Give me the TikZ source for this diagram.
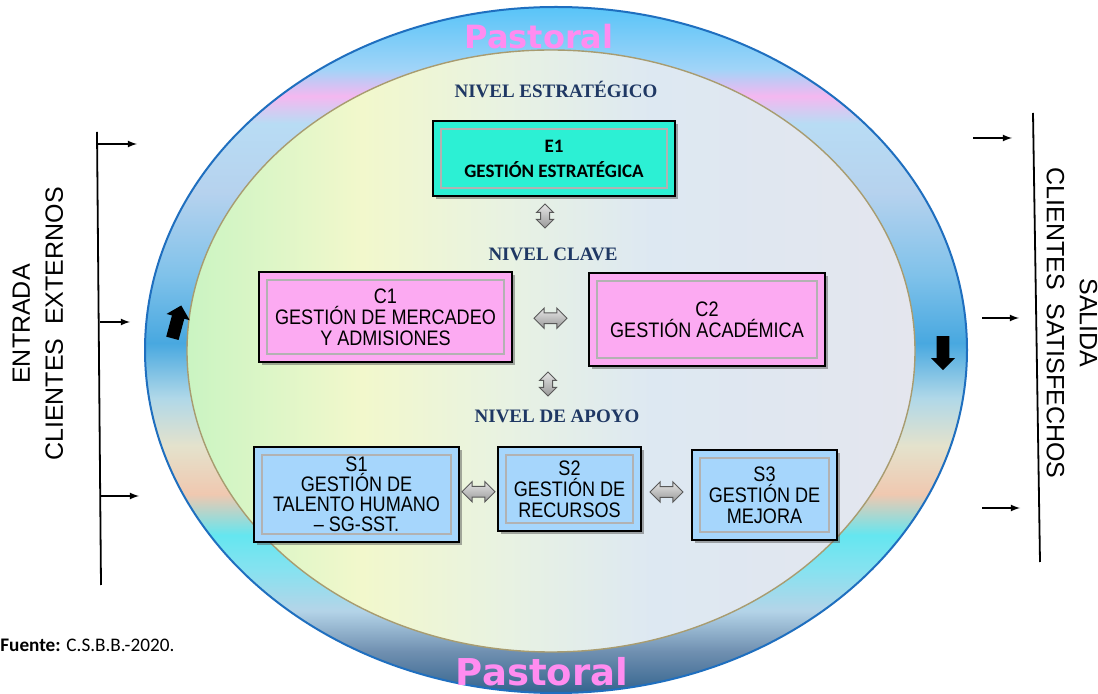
\documentclass[tikz,border=0pt]{standalone}
\usepackage{fontspec}
\setmainfont{Liberation Sans}
\newfontfamily\narrowfont[FakeStretch=0.86]{Liberation Sans}
\newfontfamily\calibfont{Carlito}
\newfontfamily\levelfont{Liberation Serif}
\newfontfamily\pastfont{DejaVu Sans}
\usepackage{tikz}
\usetikzlibrary{shapes.arrows,positioning,calc,shadows}
\usepackage{xcolor}

\definecolor{ring0}{HTML}{34648E}
\definecolor{ring1}{HTML}{6F8FB0}
\definecolor{ring2}{HTML}{B4D4E8}
\definecolor{ring3}{HTML}{86E2F0}
\definecolor{ring4}{HTML}{64E6F0}
\definecolor{ring5}{HTML}{F0C8B0}
\definecolor{ring6}{HTML}{E4E2CC}
\definecolor{ring7}{HTML}{B0D8E8}
\definecolor{ring8}{HTML}{48A8E0}
\definecolor{ring9}{HTML}{80C2EA}
\definecolor{ring10}{HTML}{B6D2EE}
\definecolor{ring11}{HTML}{B8DCF4}
\definecolor{ring12}{HTML}{F4B8F0}
\definecolor{ring13}{HTML}{A0D4F8}
\definecolor{ring14}{HTML}{58C4F8}
\definecolor{in0}{HTML}{CAF4C2}
\definecolor{in1}{HTML}{F2F8CC}
\definecolor{in2}{HTML}{E8F2E2}
\definecolor{in3}{HTML}{DDE8F2}
\definecolor{in4}{HTML}{E4E6EE}
\definecolor{ringedge}{HTML}{1F6FBF}
\definecolor{inedge}{HTML}{A89C70}
\definecolor{navy}{HTML}{1F3864}
\definecolor{eone}{HTML}{2CF0D4}
\definecolor{cpink}{HTML}{FCAAF2}
\definecolor{sblue}{HTML}{A6D6FC}
\definecolor{pastpink}{HTML}{FF8CF0}

\pgfdeclareverticalshading{ringshade}{100bp}{color(0bp)=(ring0); color(25bp)=(ring0);
  color(28bp)=(ring1); color(31bp)=(ring2); color(34bp)=(ring3); color(36.5bp)=(ring4);
  color(39.5bp)=(ring5); color(43bp)=(ring6); color(46.5bp)=(ring7); color(50.5bp)=(ring8);
  color(55.5bp)=(ring9); color(61.5bp)=(ring10); color(66.5bp)=(ring11); color(68.5bp)=(ring12);
  color(70.5bp)=(ring13); color(75bp)=(ring14); color(100bp)=(ring14)}
\pgfdeclarehorizontalshading{innershade}{100bp}{color(0bp)=(in0); color(25bp)=(in0);
  color(37bp)=(in1); color(47bp)=(in2); color(57bp)=(in3); color(75bp)=(in4); color(100bp)=(in4)}

\begin{document}
\begin{tikzpicture}[
        x=0.5pt, y=-0.5pt,
        every node/.style={inner sep=0pt},
        proc/.style={draw=black, line width=1pt, align=center,
              font=\narrowfont\fontsize{10.5}{10.5}\selectfont,
              drop shadow={shadow xshift=1.5pt, shadow yshift=-1.5pt, fill=black!65},
              path picture={\draw[black!30, line width=0.6pt]
                ([shift={(4pt,-4pt)}]path picture bounding box.north west) rectangle
                ([shift={(-4pt,4pt)}]path picture bounding box.south east);}},
        level/.style={font=\levelfont\bfseries\fontsize{9.5}{10}\selectfont, text=navy},
        harr/.style={double arrow, draw=black!65, top color=black!10, bottom color=black!40, line width=0.5pt,
              minimum height=16.5pt, inner ysep=2.4pt, inner xsep=0pt, double arrow head extend=2.4pt},
        varr/.style={harr, rotate=90, minimum height=12pt, inner ysep=2pt, double arrow head extend=2pt},
        ringarr/.style={single arrow, fill=black, minimum height=17pt, inner ysep=3pt, inner xsep=0pt,
              single arrow head extend=2.8pt},
        side/.style={font=\fontsize{12.5}{16.5}\selectfont, align=center},
        inarr/.style={-latex, line width=0.6pt},
    ]
        \fill[white, use as bounding box] (0,0) rectangle (1098,694);

        % --- Ring and inner area ---
        \shadedraw[shading=ringshade, draw=ringedge, line width=1pt] (556,350) ellipse [x radius=205.5pt, y radius=171.5pt];
        \shadedraw[shading=innershade, draw=inedge, line width=0.7pt] (551,351) ellipse [x radius=182pt, y radius=150.5pt];

        \node[font=\pastfont\bfseries\fontsize{16}{16}\selectfont, text=pastpink] (pasttop) at (539,37) {Pastoral};
        \node[font=\pastfont\bfseries\fontsize{18.5}{18.5}\selectfont, text=pastpink] (pastbot) at (542,672) {Pastoral};

        \node[ringarr, rotate=75] (upar) at (176,325) {};
        \node[ringarr, rotate=-90] (downar) at (943,350) {};

        % --- Levels ---
        \node[level] (nestr) at (556,90) {NIVEL ESTRATÉGICO};
        \node[level] (nclave) at (553,254) {NIVEL CLAVE};
        \node[level] (napoyo) at (557,416) {NIVEL DE APOYO};

        % --- Processes ---
        \node[proc, fill=eone, minimum width=121pt, minimum height=37.5pt,
              font=\calibfont\bfseries\fontsize{9.5}{12.5}\selectfont] (e1) at (554,158.5) {E1\\GESTIÓN ESTRATÉGICA};
        \node[proc, fill=cpink, minimum width=126.5pt, minimum height=45pt] (c1) at (385.5,317) {C1\\GESTIÓN DE MERCADEO\\Y ADMISIONES};
        \node[proc, fill=cpink, minimum width=118pt, minimum height=46.5pt] (c2) at (707,319.5) {C2\\GESTIÓN ACADÉMICA};
        \node[proc, fill=sblue, minimum width=102.5pt, minimum height=47.5pt,
              font=\narrowfont\fontsize{10.5}{10}\selectfont] (s1) at (356.5,494.5) {S1\\GESTIÓN DE\\TALENTO HUMANO\\– SG-SST.};
        \node[proc, fill=sblue, minimum width=71.5pt, minimum height=42pt] (s2) at (569.5,489) {S2\\GESTIÓN DE\\RECURSOS};
        \node[proc, fill=sblue, minimum width=72.5pt, minimum height=45pt] (s3) at (764.5,495) {S3\\GESTIÓN DE\\MEJORA};

        % --- Block arrows ---
        \node[varr] (ae) at (545,216) {};
        \node[varr] (ak) at (548,384) {};
        \node[harr] (ac) at ($(c1.east)!0.5!(c2.west)$) {};
        \node[harr] (as1) at ($(s1.east)!0.5!(s2.west)$) {};
        \node[harr] (as2) at ($(s2.east)!0.5!(s3.west)$) {};

        % --- Input side ---
        \coordinate (inTop) at (97,132);
        \coordinate (inBot) at (101,585);
        \draw[line width=0.9pt] (inTop) -- (inBot);
        \coordinate (ina) at (98,144);   \coordinate (inaend) at (137,144);
        \coordinate (inb) at (100,322);  \coordinate (inbend) at (130,322);
        \coordinate (inc) at (100,496);  \coordinate (incend) at (139,496);
        \draw[inarr] (ina) -- (inaend);
        \draw[inarr] (inb) -- (inbend);
        \draw[inarr] (inc) -- (incend);
        \node[side, rotate=90] (entrada) at (38,324) {ENTRADA\\CLIENTES~~EXTERNOS};

        % --- Output side ---
        \coordinate (outTop) at (1033,113);
        \coordinate (outBot) at (1040,562);
        \draw[line width=0.9pt] (outTop) -- (outBot);
        \coordinate (outa) at (973,138);  \coordinate (outaend) at (1012,138);
        \coordinate (outb) at (982,318);  \coordinate (outbend) at (1019,318);
        \coordinate (outc) at (982,508);  \coordinate (outcend) at (1020,508);
        \draw[inarr] (outa) -- (outaend);
        \draw[inarr] (outb) -- (outbend);
        \draw[inarr] (outc) -- (outcend);
        \node[side, rotate=-90] (salida) at (1072,323) {SALIDA\\CLIENTES~~SATISFECHOS};

        % --- Source ---
        \node[anchor=west, font=\calibfont\fontsize{9.6}{11}\selectfont] (fuente) at (0,645) {\textbf{Fuente:} C.S.B.B.-2020.};
    \end{tikzpicture}
\end{document}
